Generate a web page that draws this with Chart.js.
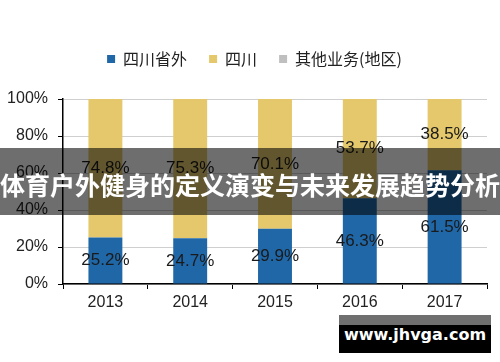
<!DOCTYPE html>
<html>
<head>
<meta charset="utf-8">
<script src="https://cdn.jsdelivr.net/npm/chart.js@4/dist/chart.umd.min.js"></script>
<style>
   body { margin: 0; background: #fff; }
   #wrap { position: relative; width: 500px; height: 362px; overflow: hidden; }
   #chart { position: absolute; left: 0; top: 0; }
   #banner {
      position: absolute; left: -10px; right: -10px; top: 148px; height: 67px;
      background: rgba(0, 0, 0, 0.57); color: #fff;
      font: bold 25px "Noto Sans CJK SC", sans-serif;
      text-align: center; line-height: 72px; white-space: nowrap;
   }
   #mark-strip { position: absolute; left: 339px; top: 315px; width: 152px; height: 10px; background: #6f6f6f; }
   #mark {
      position: absolute; left: 339px; top: 325px; width: 152px; height: 28px;
      background: #000; color: #fff; text-align: center; line-height: 28px;
      font: bold 16px "DejaVu Sans", sans-serif;
   }
</style>
</head>
<body>
<div id="wrap">
   <canvas id="chart" width="500" height="362"></canvas>
   <div id="banner">体育户外健身的定义演变与未来发展趋势分析</div>
   <div id="mark-strip"></div>
   <div id="mark">www.jhvga.com</div>
</div>
<script>
const years = ['2013', '2014', '2015', '2016', '2017'];
const outsideSichuan = [25.2, 24.7, 29.9, 46.3, 61.5];
const sichuan = [74.8, 75.3, 70.1, 53.7, 38.5];
const otherRegion = [0, 0, 0, 0, 0];
const yTicks = [0, 20, 40, 60, 80, 100];

// leave a gap under the legend and nudge it right a little
const legendTweak = {
   id: 'legendTweak',
   beforeInit(chart) {
      const legend = chart.legend;
      const fit = legend.fit;
      const draw = legend.draw;
      legend.fit = function () {
         fit.call(this);
         this.height += 22;
      };
      legend.draw = function () {
         this.ctx.save();
         this.ctx.translate(11, 0);
         draw.call(this);
         this.ctx.restore();
      };
   }
};

// draw the percent labels in the middle of each segment
const segmentLabels = {
   id: 'segmentLabels',
   afterDatasetsDraw(chart) {
      const ctx = chart.ctx;
      ctx.save();
      ctx.font = '17px "Liberation Sans", Arial, sans-serif';
      ctx.fillStyle = '#1a1a1a';
      ctx.textAlign = 'center';
      ctx.textBaseline = 'middle';
      chart.data.datasets.forEach((ds, i) => {
         const meta = chart.getDatasetMeta(i);
         meta.data.forEach((bar, j) => {
            const v = ds.data[j];
            if (!v) return;
            const { x, y, base } = bar.getProps(['x', 'y', 'base'], true);
            ctx.fillText(v.toFixed(1) + '%', x, (y + base) / 2);
         });
      });
      ctx.restore();
   }
};

new Chart(document.getElementById('chart').getContext('2d'), {
   type: 'bar',
   data: {
      labels: years,
      datasets: [
         { label: '四川省外', data: outsideSichuan, backgroundColor: '#2067a8' },
         { label: '四川', data: sichuan, backgroundColor: '#e4c86b' },
         { label: '其他业务(地区)', data: otherRegion, backgroundColor: '#bfbfbf' }
      ]
   },
   options: {
      responsive: false,
      animation: false,
      barPercentage: 0.4,
      categoryPercentage: 1,
      layout: { padding: { left: 0, right: 13, top: 29, bottom: 38 } },
      plugins: {
         tooltip: { enabled: false },
         legend: {
            position: 'top',
            labels: {
               boxWidth: 8,
               boxHeight: 8,
               padding: 22,
               color: '#222',
               font: { family: '"Noto Sans CJK SC", sans-serif', size: 16 }
            }
         }
      },
      scales: {
         x: {
            stacked: true,
            afterFit: s => { s.height = 40; },
            border: { color: '#000', width: 1.5 },
            grid: { drawOnChartArea: false, drawTicks: true, tickLength: 5, tickColor: '#000', offset: true },
            ticks: { color: '#222', padding: 4, font: { family: '"Liberation Sans", Arial, sans-serif', size: 16 } }
         },
         y: {
            stacked: true,
            min: 0,
            max: 100,
            afterFit: s => { s.width = 63; },
            afterBuildTicks: s => { s.ticks = yTicks.map(v => ({ value: v })); },
            border: { color: '#000', width: 1.5 },
            grid: { color: '#cfcfcf', tickColor: '#000', tickLength: 5 },
            ticks: {
               color: '#222',
               padding: 10,
               callback: v => v + '%',
               font: { family: '"Liberation Sans", Arial, sans-serif', size: 16 }
            }
         }
      }
   },
   plugins: [legendTweak, segmentLabels]
});
</script>
</body>
</html>
